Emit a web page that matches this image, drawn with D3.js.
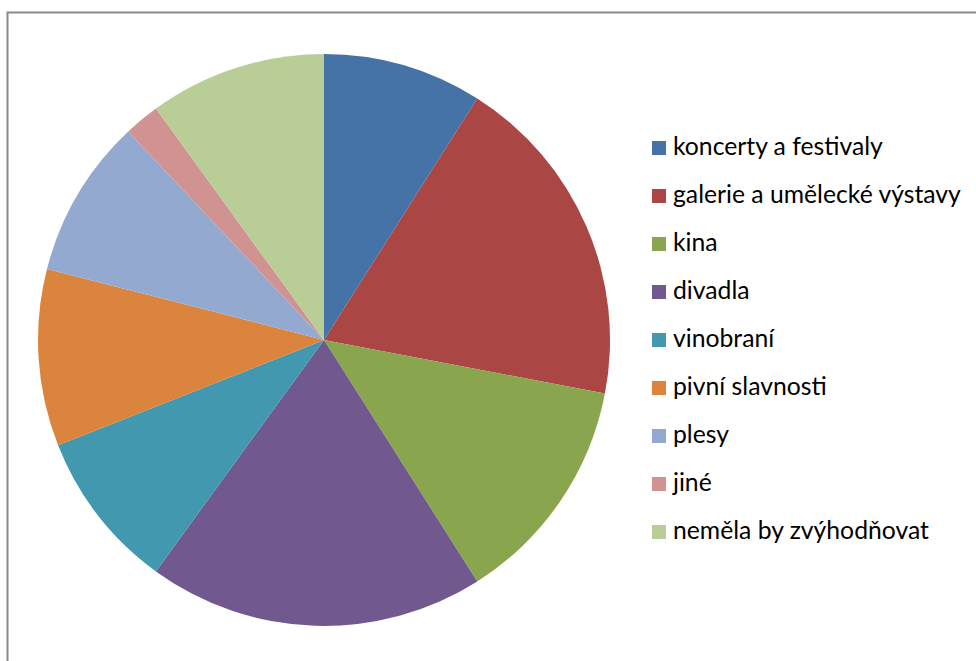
<!DOCTYPE html>
<html>
<head>
<meta charset="utf-8">
<script src="https://cdn.jsdelivr.net/npm/d3@7"></script>
<style>
  html, body { margin: 0; padding: 0; background: #fff; overflow: hidden; }
  svg { display: block; }
</style>
</head>
<body>
<svg id="chart" width="976" height="661"></svg>
<script>
// Categories and their shares (percent)
const categories = [
  "koncerty a festivaly",
  "galerie a umělecké výstavy",
  "kina",
  "divadla",
  "vinobraní",
  "pivní slavnosti",
  "plesy",
  "jiné",
  "neměla by zvýhodňovat"
];
const values = [9, 19, 13, 19, 9, 10, 9, 2, 10];
const colors = [
  "#4572A7", "#AA4643", "#89A54E", "#71588F", "#4198AF",
  "#DB843D", "#93A9CF", "#D19392", "#B9CD96"
];

const svg = d3.select("#chart");
const W = 976, H = 661;

// Chart area frame
svg.append("rect")
  .attr("x", 7.5).attr("y", 12.5)
  .attr("width", W + 20).attr("height", H + 20)
  .attr("fill", "#fff")
  .attr("stroke", "#8a8a8a")
  .attr("stroke-width", 2);

// Pie
const cx = 324, cy = 340, r = 286;
const data = categories.map((c, i) => ({ name: c, value: values[i], color: colors[i] }));
const pie = d3.pie().sort(null).value(d => d.value).startAngle(0).endAngle(2 * Math.PI);
const arc = d3.arc().innerRadius(0).outerRadius(r);

svg.append("g")
  .attr("transform", `translate(${cx},${cy})`)
  .selectAll("path")
  .data(pie(data))
  .join("path")
  .attr("d", arc)
  .attr("fill", d => d.data.color);

// Legend
const legendX = 652, legendY0 = 148, rowStep = 48, box = 14;
const font = "Lato, 'Open Sans', sans-serif";
const legend = svg.append("g");
const rows = legend.selectAll("g")
  .data(data)
  .join("g")
  .attr("transform", (d, i) => `translate(${legendX},${legendY0 + i * rowStep})`);

rows.append("rect")
  .attr("x", 0).attr("y", -box / 2)
  .attr("width", box).attr("height", box)
  .attr("fill", d => d.color);

const labels = rows.append("text")
  .attr("x", 21).attr("y", 7)
  .attr("font-family", font)
  .attr("font-size", 21)
  .attr("fill", "#000")
  .text(d => d.name);

// Size the legend font so the longest label spans the legend column
let maxW = 0;
labels.each(function () { maxW = Math.max(maxW, this.getComputedTextLength()); });
const fs = 21 * 288 / maxW;
labels.attr("font-size", fs);
</script>
</body>
</html>
